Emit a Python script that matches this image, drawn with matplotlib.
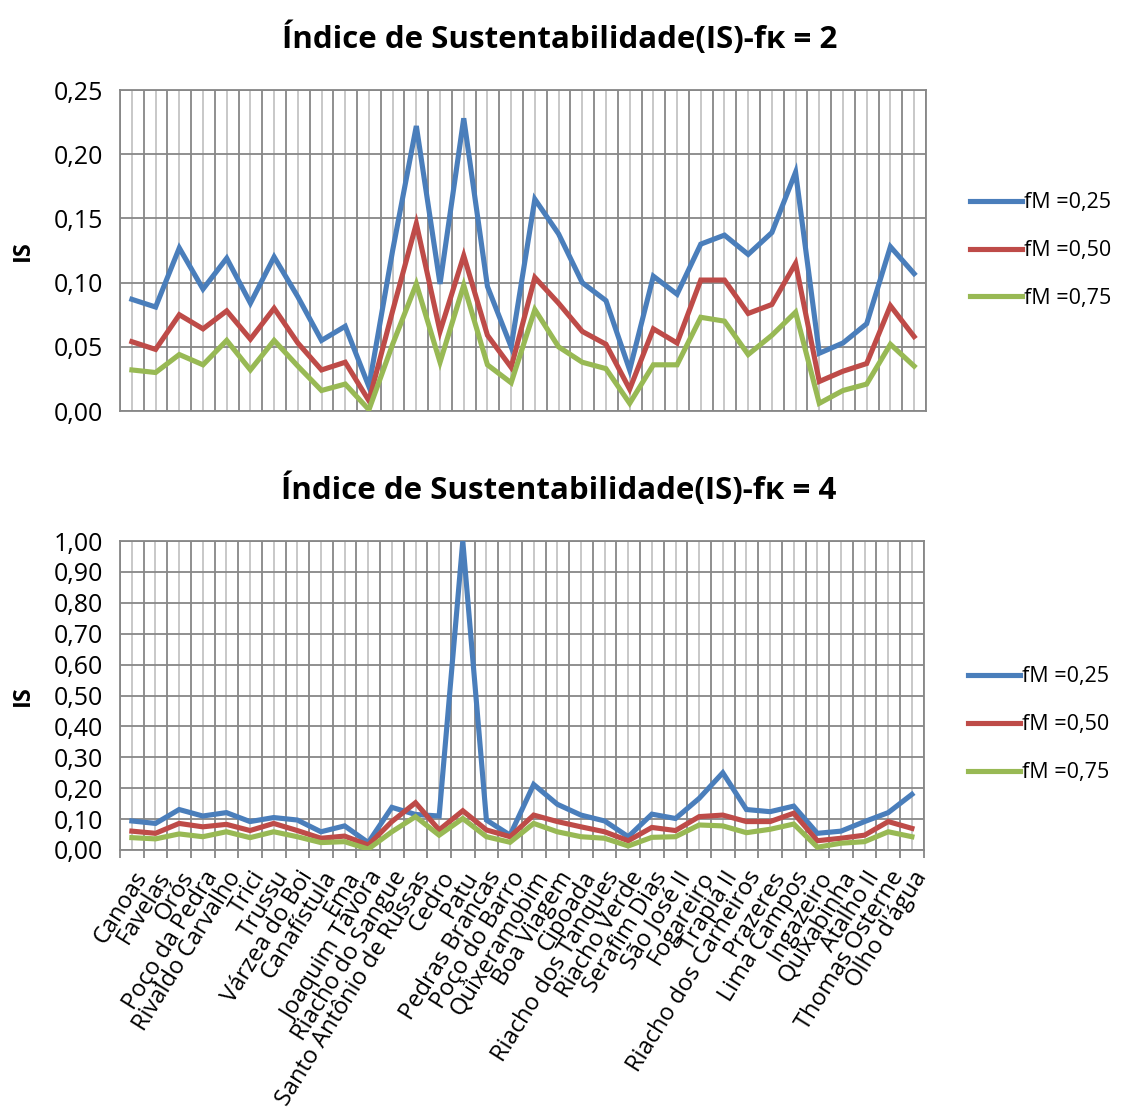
import numpy as np
import matplotlib
matplotlib.use('Agg')
import matplotlib.pyplot as plt
from matplotlib.ticker import FuncFormatter

plt.rcParams['font.family'] = ['Open Sans', 'DejaVu Sans']

# Reservoirs (x categories)
acudes = ['Canoas', 'Favelas', 'Orós', 'Poço da Pedra', 'Rivaldo Carvalho', 'Trici',
          'Trussu', 'Várzea do Boi', 'Canafístula', 'Ema', 'Joaquim Távora',
          'Riacho do Sangue', 'Santo Antônio de Russas', 'Cedro', 'Patu',
          'Pedras Brancas', 'Poço do Barro', 'Quixeramobim', 'Boa Viagem', 'Cipoada',
          'Riacho dos Tanques', 'Riacho Verde', 'Serafim Dias', 'São José II',
          'Fogareiro', 'Trapiá II', 'Riacho dos Carneiros', 'Prazeres', 'Lima Campos',
          'Ingazeiro', 'Quixabinha', 'Atalho II', 'Thomas Osterne', "Olho d'água"]

series_labels = ['fM =0,25', 'fM =0,50', 'fM =0,75']
colors = ['#4A7EBB', '#BE4B48', '#98B954']

# IS for fK = 2
is_fk2_025 = [0.087, 0.081, 0.127, 0.095, 0.119, 0.084, 0.120, 0.089, 0.055, 0.066,
              0.019, 0.125, 0.222, 0.099, 0.228, 0.097, 0.050, 0.165, 0.138, 0.100,
              0.086, 0.032, 0.105, 0.091, 0.130, 0.137, 0.122, 0.139, 0.186, 0.045,
              0.053, 0.068, 0.128, 0.107]
is_fk2_050 = [0.054, 0.048, 0.075, 0.064, 0.078, 0.056, 0.080, 0.053, 0.032, 0.038,
              0.008, 0.078, 0.146, 0.062, 0.121, 0.059, 0.034, 0.104, 0.084, 0.062,
              0.052, 0.017, 0.064, 0.053, 0.102, 0.102, 0.076, 0.083, 0.115, 0.023,
              0.031, 0.037, 0.082, 0.058]
is_fk2_075 = [0.032, 0.030, 0.044, 0.036, 0.055, 0.032, 0.055, 0.035, 0.016, 0.021,
              0.001, 0.052, 0.099, 0.038, 0.098, 0.036, 0.022, 0.079, 0.050, 0.038,
              0.033, 0.006, 0.036, 0.036, 0.073, 0.070, 0.044, 0.059, 0.077, 0.006,
              0.016, 0.021, 0.052, 0.035]

# IS for fK = 4
is_fk4_025 = [0.094, 0.086, 0.131, 0.110, 0.121, 0.092, 0.105, 0.097, 0.059, 0.078,
              0.024, 0.138, 0.115, 0.110, 1.000, 0.097, 0.048, 0.212, 0.148, 0.113,
              0.094, 0.043, 0.116, 0.102, 0.167, 0.250, 0.131, 0.124, 0.142, 0.054,
              0.061, 0.092, 0.121, 0.180]
is_fk4_050 = [0.061, 0.054, 0.086, 0.075, 0.083, 0.063, 0.086, 0.063, 0.038, 0.045,
              0.016, 0.092, 0.153, 0.065, 0.127, 0.065, 0.043, 0.113, 0.092, 0.075,
              0.059, 0.030, 0.073, 0.063, 0.108, 0.113, 0.092, 0.092, 0.119, 0.030,
              0.038, 0.048, 0.092, 0.070]
is_fk4_075 = [0.040, 0.036, 0.052, 0.043, 0.059, 0.040, 0.059, 0.043, 0.024, 0.027,
              0.003, 0.059, 0.108, 0.048, 0.102, 0.043, 0.025, 0.086, 0.059, 0.043,
              0.038, 0.013, 0.041, 0.043, 0.081, 0.078, 0.056, 0.067, 0.084, 0.009,
              0.022, 0.027, 0.059, 0.043]

x = np.arange(len(acudes))
comma = FuncFormatter(lambda v, p: f'{v:.2f}'.replace('.', ','))

fig = plt.figure(figsize=(11.24, 11.13), dpi=100)
ax1 = fig.add_axes([0.1068, 0.6307, 0.717, 0.2884])
ax2 = fig.add_axes([0.1068, 0.2363, 0.715, 0.2776])


def style_axes(ax, series, ymax, ystep, title, legend_y, show_labels):
    for vals, lab, c in zip(series, series_labels, colors):
        ax.plot(x, vals, color=c, lw=3.7, label=lab, solid_joinstyle='miter', zorder=3)
    ax.set_xlim(-0.5, len(acudes) - 0.5)
    ax.set_ylim(0, ymax)
    ax.set_yticks(np.arange(0, ymax + ystep / 2, ystep))
    ax.yaxis.set_major_formatter(comma)
    # dark lines between categories, light lines through them
    ax.set_xticks(np.arange(-0.5, len(acudes), 1.0))
    ax.set_xticks(x, minor=True)
    ax.grid(True, which='major', color='#878787', lw=1.3, zorder=1)
    ax.grid(True, which='minor', axis='x', color='#c4c4c4', lw=1.3, zorder=1)
    ax.tick_params(axis='y', length=0, labelsize=18, pad=12)
    ax.tick_params(axis='x', which='major', labelbottom=False,
                   length=6 if show_labels else 0, color='#878787', width=1.3)
    if show_labels:
        ax.set_xticklabels(acudes, minor=True, rotation=58, ha='right',
                           va='top', rotation_mode='anchor', fontsize=17)
        ax.tick_params(axis='x', which='minor', length=0, pad=12)
    else:
        ax.tick_params(axis='x', which='minor', length=0, labelbottom=False)
    for s in ax.spines.values():
        s.set_color('#878787')
        s.set_linewidth(1.3)
    ax.set_ylabel('IS', fontsize=17, fontweight='bold', labelpad=14)
    ax.set_title(title, fontsize=22.5, fontweight='bold', pad=30, x=0.546)
    ax.legend(loc='center left', bbox_to_anchor=(1.055, legend_y), frameon=False,
              borderaxespad=0, borderpad=0, fontsize=15.5, handlelength=2.4,
              handletextpad=0.1, labelspacing=1.25)


style_axes(ax1, [is_fk2_025, is_fk2_050, is_fk2_075], 0.25, 0.05,
           'Índice de Sustentabilidade(IS)-fκ = 2', 0.5, False)
style_axes(ax2, [is_fk4_025, is_fk4_050, is_fk4_075], 1.0, 0.1,
           'Índice de Sustentabilidade(IS)-fκ = 4', 0.405, True)

fig.savefig('out.png', dpi=100)
